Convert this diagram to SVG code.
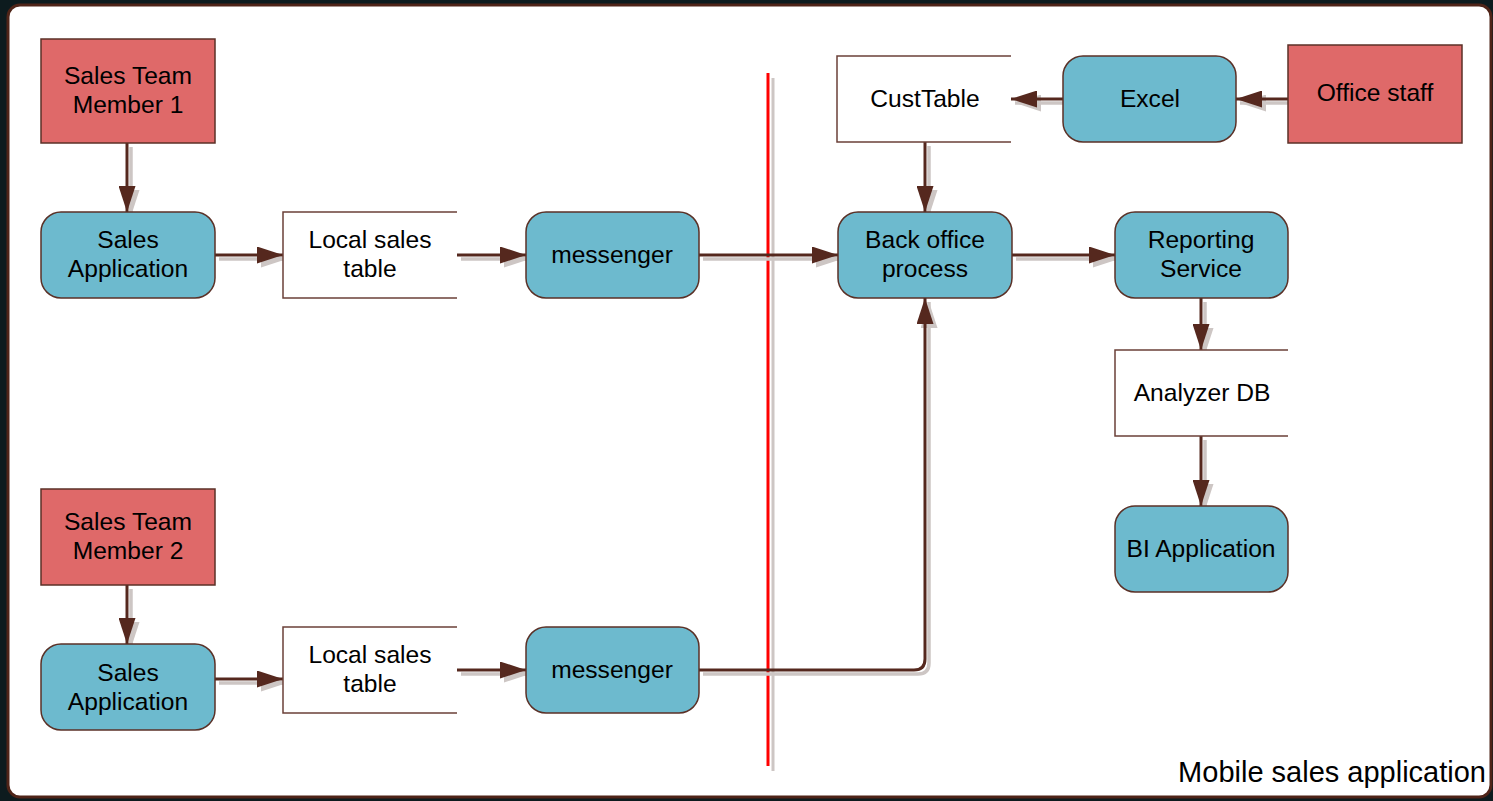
<svg xmlns="http://www.w3.org/2000/svg" xmlns:xlink="http://www.w3.org/1999/xlink" width="1493" height="801" viewBox="0 0 1493 801">
  <style>
    .txt { font-family: "Liberation Sans", Arial, sans-serif; font-size: 24.6px; fill: #000; text-anchor: middle; }
    .actor { fill: #df6969; stroke: #5b3127; stroke-width: 1.5; }
    .proc { fill: #6dbace; stroke: #5b3127; stroke-width: 1.5; }
    .store { fill: #fff; stroke: none; }
    .storeline { fill: none; stroke: #6b4038; stroke-width: 1.5; }
    .wire { fill: none; stroke: #55281e; stroke-width: 3; marker-end: url(#ah); }
    .wire-sh { fill: none; stroke: #cdc6c4; stroke-width: 3.5; marker-end: url(#ah-sh); }
  </style>
  <defs>
    <marker id="ah" viewBox="0 0 26 17" refX="26" refY="8.5" markerWidth="26" markerHeight="17" markerUnits="userSpaceOnUse" orient="auto">
      <path d="M0,0 L26,8.5 L0,17 Z" fill="#55281e"/>
    </marker>
    <marker id="ah-sh" viewBox="0 0 26 17" refX="26" refY="8.5" markerWidth="26" markerHeight="17" markerUnits="userSpaceOnUse" orient="auto">
      <path d="M0,0 L26,8.5 L0,17 Z" fill="#cdc6c4"/>
    </marker>
    <!-- connector geometry, drawn twice: soft shadow then the line itself -->
    <path id="c1" d="M127,143 V212"/>
    <path id="c2" d="M215,255 H283"/>
    <path id="c3" d="M457,255 H526"/>
    <path id="c4" d="M699,255 H838"/>
    <path id="c5" d="M1012,255 H1115"/>
    <path id="c6" d="M1201,298 V350"/>
    <path id="c7" d="M1201,436 V506"/>
    <path id="c8" d="M925,142 V212"/>
    <path id="c9" d="M1063,99 H1011"/>
    <path id="c10" d="M1288,99 H1236"/>
    <path id="c11" d="M127,585 V644"/>
    <path id="c12" d="M215,679 H283"/>
    <path id="c13" d="M457,670 H526"/>
    <path id="c14" d="M699,670 H914 Q925,670 925,659 V298"/>
  </defs>

  <!-- backdrop and panel -->
  <rect x="0" y="0" width="1493" height="801" fill="#0d1b1e"/>
  <rect x="8" y="5" width="1483" height="792" rx="12" ry="12" fill="#ffffff" stroke="#4f2418" stroke-width="3"/>

  <!-- boundary line -->
  <g id="boundary">
    <line x1="773" y1="78" x2="773" y2="771" stroke="#cdc6c4" stroke-width="3"/>
    <line x1="768" y1="73" x2="768" y2="766" stroke="#ff0000" stroke-width="3"/>
  </g>

  <g id="connectors">
    <g transform="translate(4,4)" class="wire-sh">
      <use xlink:href="#c1"/><use xlink:href="#c2"/><use xlink:href="#c3"/><use xlink:href="#c4"/>
      <use xlink:href="#c5"/><use xlink:href="#c6"/><use xlink:href="#c7"/><use xlink:href="#c8"/>
      <use xlink:href="#c9"/><use xlink:href="#c10"/><use xlink:href="#c11"/><use xlink:href="#c12"/>
      <use xlink:href="#c13"/><use xlink:href="#c14"/>
    </g>
    <g class="wire">
      <use xlink:href="#c1"/><use xlink:href="#c2"/><use xlink:href="#c3"/><use xlink:href="#c4"/>
      <use xlink:href="#c5"/><use xlink:href="#c6"/><use xlink:href="#c7"/><use xlink:href="#c8"/>
      <use xlink:href="#c9"/><use xlink:href="#c10"/><use xlink:href="#c11"/><use xlink:href="#c12"/>
      <use xlink:href="#c13"/><use xlink:href="#c14"/>
    </g>
  </g>

  <g id="sales-team-1">
    <rect class="actor" x="41" y="39" width="174" height="104"/>
    <text class="txt" x="128" y="84">Sales Team</text>
    <text class="txt" x="128" y="113">Member 1</text>
  </g>
  <g id="sales-app-1">
    <rect class="proc" x="41" y="212" width="174" height="86" rx="20"/>
    <text class="txt" x="128" y="248">Sales</text>
    <text class="txt" x="128" y="277">Application</text>
  </g>
  <g id="local-table-1">
    <rect class="store" x="283" y="212" width="174" height="86"/>
    <path class="storeline" d="M457,212 H283 V298 H457"/>
    <text class="txt" x="370" y="248">Local sales</text>
    <text class="txt" x="370" y="277">table</text>
  </g>
  <g id="messenger-1">
    <rect class="proc" x="526" y="212" width="173" height="86" rx="20"/>
    <text class="txt" x="612" y="263">messenger</text>
  </g>
  <g id="back-office">
    <rect class="proc" x="838" y="212" width="174" height="86" rx="20"/>
    <text class="txt" x="925" y="248">Back office</text>
    <text class="txt" x="925" y="277">process</text>
  </g>
  <g id="reporting">
    <rect class="proc" x="1115" y="212" width="173" height="86" rx="20"/>
    <text class="txt" x="1201" y="248">Reporting</text>
    <text class="txt" x="1201" y="277">Service</text>
  </g>
  <g id="cust-table">
    <rect class="store" x="837" y="56" width="174" height="86"/>
    <path class="storeline" d="M1011,56 H837 V142 H1011"/>
    <text class="txt" x="925" y="107">CustTable</text>
  </g>
  <g id="excel">
    <rect class="proc" x="1063" y="56" width="173" height="86" rx="20"/>
    <text class="txt" x="1150" y="107">Excel</text>
  </g>
  <g id="office-staff">
    <rect class="actor" x="1288" y="45" width="174" height="98"/>
    <text class="txt" x="1375" y="101">Office staff</text>
  </g>
  <g id="analyzer-db">
    <rect class="store" x="1115" y="350" width="173" height="86"/>
    <path class="storeline" d="M1288,350 H1115 V436 H1288"/>
    <text class="txt" x="1202" y="401">Analyzer DB</text>
  </g>
  <g id="bi-app">
    <rect class="proc" x="1115" y="506" width="173" height="86" rx="20"/>
    <text class="txt" x="1201" y="557">BI Application</text>
  </g>
  <g id="sales-team-2">
    <rect class="actor" x="41" y="489" width="174" height="96"/>
    <text class="txt" x="128" y="530">Sales Team</text>
    <text class="txt" x="128" y="559">Member 2</text>
  </g>
  <g id="sales-app-2">
    <rect class="proc" x="41" y="644" width="174" height="86" rx="20"/>
    <text class="txt" x="128" y="681">Sales</text>
    <text class="txt" x="128" y="710">Application</text>
  </g>
  <g id="local-table-2">
    <rect class="store" x="283" y="627" width="174" height="86"/>
    <path class="storeline" d="M457,627 H283 V713 H457"/>
    <text class="txt" x="370" y="663">Local sales</text>
    <text class="txt" x="370" y="692">table</text>
  </g>
  <g id="messenger-2">
    <rect class="proc" x="526" y="627" width="173" height="86" rx="20"/>
    <text class="txt" x="612" y="678">messenger</text>
  </g>

  <text id="caption" x="1486" y="782" style="font-family: 'Liberation Sans', Arial, sans-serif; font-size: 29px; text-anchor: end;">Mobile sales application</text>
</svg>
